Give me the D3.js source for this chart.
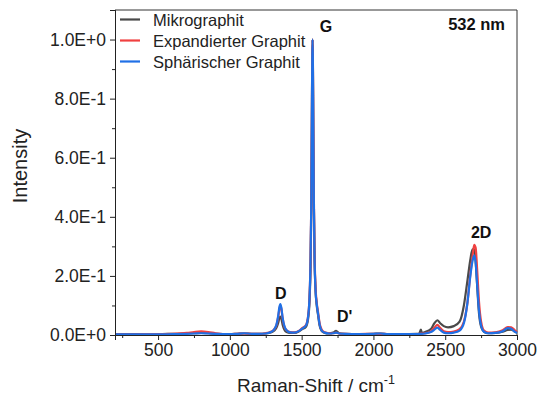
<!DOCTYPE html>
<html><head><meta charset="utf-8">
<script src="https://cdn.jsdelivr.net/npm/d3@7/dist/d3.min.js"></script>
<style>
html,body{margin:0;padding:0;background:#fff;}
svg{display:block;font-family:"Liberation Sans",Arial,sans-serif;}
</style></head>
<body><svg id="chart" width="538" height="399"></svg>
<script>
const shift = [200,300,400,500,600,700,750,800,850,900,1000,1050,1100,1150,1200,1250,1290,1310,1325,1337,1345,1352,1359,1367,1380,1395,1420,1450,1480,1505,1530,1545,1555,1562,1567,1571,1574,1576,1578,1581,1585,1590,1597,1605,1615,1625,1640,1660,1690,1720,1740,1760,1800,1900,2000,2050,2100,2200,2300,2320,2330,2338,2360,2400,2425,2445,2465,2490,2520,2560,2600,2630,2655,2675,2690,2702,2712,2722,2735,2750,2770,2800,2850,2900,2935,2960,2985,3000];
const mikrographit = [.003,.003,.003,.003,.004,.005,.006,.007,.006,.004,.003,.004,.005,.004,.004,.005,.009,.015,.025,.042,.057,.062,.054,.036,.018,.010,.007,.007,.012,.020,.028,.055,.115,.230,.420,.710,.940,1.000,.950,.730,.450,.260,.150,.100,.065,.032,.013,.007,.005,.008,.014,.006,.004,.003,.004,.005,.003,.003,.004,.005,.018,.007,.010,.020,.040,.050,.040,.030,.026,.030,.045,.100,.185,.255,.290,.290,.250,.170,.075,.028,.011,.006,.007,.011,.017,.018,.012,.008];
const expandiert = [.002,.002,.003,.003,.004,.007,.010,.012,.010,.006,.003,.004,.005,.004,.004,.006,.012,.020,.034,.062,.088,.099,.088,.058,.028,.016,.010,.009,.014,.024,.034,.064,.130,.250,.445,.720,.940,1.000,.945,.740,.470,.275,.160,.110,.075,.040,.018,.009,.006,.006,.008,.005,.004,.003,.004,.004,.003,.003,.003,.004,.005,.005,.006,.012,.025,.034,.024,.013,.010,.012,.020,.045,.110,.205,.265,.305,.295,.225,.115,.045,.015,.008,.009,.016,.027,.026,.016,.010];
const sphaerisch = [.002,.002,.002,.002,.003,.004,.005,.006,.005,.004,.003,.004,.006,.004,.004,.005,.011,.020,.036,.066,.095,.105,.092,.060,.030,.016,.009,.008,.013,.022,.032,.062,.130,.250,.440,.720,.940,1.000,.940,.720,.450,.260,.150,.105,.070,.036,.015,.008,.005,.006,.008,.005,.004,.003,.004,.005,.003,.003,.003,.004,.004,.004,.005,.010,.018,.025,.017,.008,.006,.008,.015,.040,.110,.200,.250,.270,.245,.175,.085,.032,.011,.006,.007,.013,.023,.021,.011,.007];
const seriesNames = ["Mikrographit","Expandierter Graphit","Sphärischer Graphit"];
const seriesColors = ["#4a4a4a","#f04040","#2070e6"];
const xTicks = [500,1000,1500,2000,2500,3000];
const xMinor = [250,750,1250,1750,2250,2750];
const yTicks = [0,0.2,0.4,0.6,0.8,1.0];
const yMinor = [0.1,0.3,0.5,0.7,0.9];
const peakLabels = [{t:"D",x:1355,y:0.122},{t:"G",x:1670,y:1.025},{t:"D'",x:1800,y:0.045},{t:"2D",x:2750,y:0.33}];

const svg = d3.select("#chart");
const m = {l:115, r:517, t:10, b:335};
const x = d3.scaleLinear().domain([200,3000]).range([m.l,m.r]);
const y = d3.scaleLinear().domain([0,1.1]).range([m.b,m.t]);
const fmt = v => d3.format(".1e")(v).toUpperCase();

// frame
svg.append("path").attr("d",`M${m.l},${m.t}H${m.r}V${m.b}`).attr("fill","none").attr("stroke","#333").attr("stroke-width",1);

const series = [mikrographit, expandiert, sphaerisch];
const line = d3.line().x((d,i)=>x(shift[i])).y(d=>y(d)).curve(d3.curveMonotoneX);
series.forEach((s,k)=>{
  svg.append("path").datum(s).attr("d",line).attr("fill","none")
    .attr("stroke",seriesColors[k]).attr("stroke-width",2.2).attr("stroke-linejoin","round");
});

// axes
svg.append("g").attr("transform",`translate(0,${m.b})`)
  .call(d3.axisBottom(x).tickValues(xTicks).tickSize(5).tickPadding(4).tickFormat(d3.format("d")));
svg.append("g").attr("transform",`translate(0,${m.b})`)
  .call(d3.axisBottom(x).tickValues(xMinor).tickSize(3).tickFormat(""));
svg.append("g").attr("transform",`translate(${m.l},0)`)
  .call(d3.axisLeft(y).tickValues(yTicks).tickSize(5).tickPadding(4).tickFormat(fmt));
svg.append("g").attr("transform",`translate(${m.l},0)`)
  .call(d3.axisLeft(y).tickValues(yMinor).tickSize(3).tickFormat(""));
svg.selectAll(".domain").attr("stroke","#222");
svg.selectAll(".tick line").attr("stroke","#222");
svg.selectAll(".tick text").attr("font-family","Liberation Sans, Arial, sans-serif").attr("font-size",17.5).attr("fill","#222");

// axis titles
const xt = svg.append("text").attr("x",(m.l+m.r)/2).attr("y",392).attr("text-anchor","middle")
  .attr("font-size",19).attr("fill","#222");
xt.append("tspan").text("Raman-Shift / cm");
xt.append("tspan").attr("dy",-8).attr("font-size",12.5).text("-1");
svg.append("text").attr("transform",`translate(27,166) rotate(-90)`).attr("text-anchor","middle")
  .attr("font-size",20).attr("fill","#222").text("Intensity");

// legend
seriesNames.forEach((n,k)=>{
  const yy = 19.5 + k*21;
  svg.append("line").attr("x1",120).attr("x2",140).attr("y1",yy).attr("y2",yy)
    .attr("stroke",seriesColors[k]).attr("stroke-width",2.2);
  svg.append("text").attr("x",153).attr("y",yy+6).attr("font-size",16.5).attr("fill","#222").text(n);
});

// annotations
peakLabels.forEach(p=>{
  svg.append("text").attr("x",x(p.x)).attr("y",y(p.y)).attr("text-anchor","middle")
    .attr("font-size",16).attr("font-weight","bold").attr("fill","#111").text(p.t);
});
svg.append("text").attr("x",505).attr("y",30).attr("text-anchor","end")
  .attr("font-size",16.5).attr("font-weight","bold").attr("fill","#111").text("532 nm");
</script></body></html>
